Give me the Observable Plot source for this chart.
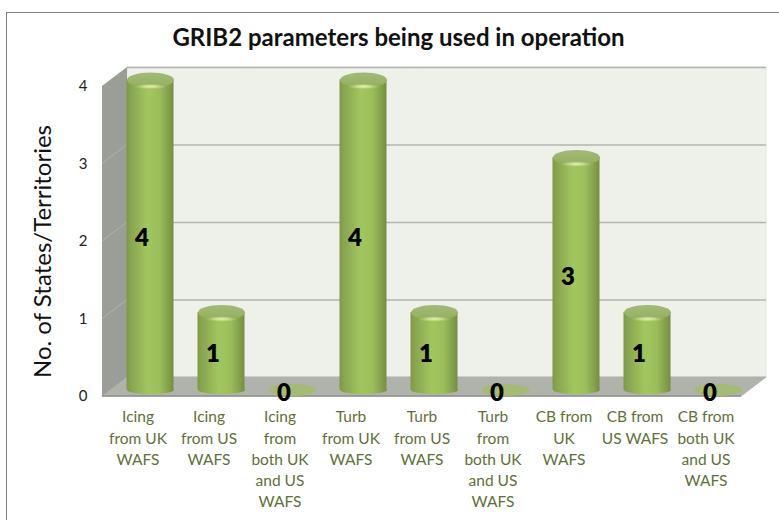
<!DOCTYPE html>
<html><head><meta charset="utf-8">
<script src="https://cdn.jsdelivr.net/npm/d3@7"></script>
<script src="https://cdn.jsdelivr.net/npm/@observablehq/plot@0.6"></script>
<style>
html,body{margin:0;padding:0;background:#fff}
#frame{position:absolute;left:6px;top:12px;width:800px;height:600px;border:1px solid #808080;pointer-events:none}
body{width:779px;height:520px;overflow:hidden;position:relative}
</style></head><body>
<div id="chart"></div><div id="frame"></div>
<script>
const categories = [
  "Icing\nfrom UK\nWAFS","Icing\nfrom US\nWAFS","Icing\nfrom\nboth UK\nand US\nWAFS",
  "Turb\nfrom UK\nWAFS","Turb\nfrom US\nWAFS","Turb\nfrom\nboth UK\nand US\nWAFS",
  "CB from\nUK\nWAFS","CB from\nUS WAFS","CB from\nboth UK\nand US\nWAFS"];
const values = [4,1,0,4,1,0,3,1,0];
const yTicks = [0,1,2,3,4];
const titleText = "GRIB2 parameters being used in operation";
const yTitle = "No. of States/Territories";
const data = categories.map((c,i)=>({c,v:values[i]}));
const nonzero = data.filter(d=>d.v>0);
const zero = data.filter(d=>d.v===0);

const FONT = "Lato, 'Open Sans', sans-serif";
const depthX = 25, depthY = -19;
const barDx = 12.5, barDy = -6.5;
const ellipse = (rx,ry)=>({draw(ctx){
  const k=0.5523;
  ctx.moveTo(-rx,0);
  ctx.bezierCurveTo(-rx,-ry*k,-rx*k,-ry,0,-ry);
  ctx.bezierCurveTo(rx*k,-ry,rx,-ry*k,rx,0);
  ctx.bezierCurveTo(rx,ry*k,rx*k,ry,0,ry);
  ctx.bezierCurveTo(-rx*k,ry,-rx,ry*k,-rx,0);
  ctx.closePath();
}});
const ns="http://www.w3.org/2000/svg";
function defs(){
  const g=document.createElementNS(ns,"g");
  g.innerHTML=`<defs>
  <linearGradient id="cyl" x1="0" x2="1" y1="0" y2="0">
    <stop offset="0" stop-color="#7d9848"/><stop offset="0.08" stop-color="#87a44f"/>
    <stop offset="0.45" stop-color="#a2c65f"/><stop offset="0.7" stop-color="#9bbe5a"/>
    <stop offset="0.93" stop-color="#7f9a4a"/><stop offset="1" stop-color="#748d42"/>
  </linearGradient>
  <linearGradient id="capg" x1="0" x2="0" y1="0" y2="1">
    <stop offset="0" stop-color="#a3ba78"/><stop offset="0.7" stop-color="#98b367"/><stop offset="1" stop-color="#8faa55"/>
  </linearGradient>
  <radialGradient id="shine" cx="0.5" cy="0.5" r="0.5">
    <stop offset="0" stop-color="#e4f0bc"/><stop offset="0.45" stop-color="#cfe196" stop-opacity="0.85"/><stop offset="1" stop-color="#a2c65f" stop-opacity="0"/>
  </radialGradient></defs>`;
  return g;
}
function walls(index,{x,y},channels,dim){
  const x0=x.range()[0], x1=x.range()[1];
  const y0=y(0), y4=y(4);
  const g=document.createElementNS(ns,"g");
  const poly=(pts,fill,stroke)=>{
    const p=document.createElementNS(ns,"polygon");
    p.setAttribute("points",pts.map(q=>q.join(",")).join(" "));
    p.setAttribute("fill",fill);
    if(stroke){p.setAttribute("stroke",stroke);p.setAttribute("stroke-width",1);}
    g.appendChild(p);
  };
  poly([[x0+depthX,y4+depthY],[x1+depthX,y4+depthY],[x1+depthX,y0+depthY],[x0+depthX,y0+depthY]],"#eef0ea","#e4e6e0");
  poly([[x0,y0],[x0+depthX,y0+depthY],[x1+depthX,y0+depthY],[x1,y0]],"#b0b2ac","#b0b2ac");
  poly([[x0,y0],[x0+depthX,y0+depthY],[x0+depthX,y4+depthY],[x0,y4]],"#9b9d97");
  for(const t of yTicks.slice(1,-1)){
    const l=document.createElementNS(ns,"line");
    l.setAttribute("x1",x0);l.setAttribute("x2",x0+depthX);
    l.setAttribute("y1",y(t));l.setAttribute("y2",y(t)+depthY);
    l.setAttribute("stroke","#b0b2ac");
    g.appendChild(l);
  }
  const l=document.createElementNS(ns,"line");
  l.setAttribute("x1",x0);l.setAttribute("x2",x1);l.setAttribute("y1",y0);l.setAttribute("y2",y0);
  l.setAttribute("stroke","#8f918b");l.setAttribute("stroke-width",1.5);
  g.appendChild(l);
  return g;
}
const plot = Plot.plot({
  width:779,height:520,
  marginLeft:102,marginRight:38,marginTop:86,marginBottom:124,
  style:{fontFamily:FONT,background:"white",overflow:"visible"},
  x:{domain:categories,padding:0,label:null},
  y:{domain:[0,4],label:null},
  marks:[
    defs,
    walls,
    Plot.ruleY(yTicks.slice(1),{dx:depthX,dy:depthY,stroke:"#b3b5ae",strokeWidth:1.5,strokeOpacity:1}),
    Plot.dot(zero,{x:"c",y:"v",dx:barDx,dy:barDy,symbol:ellipse(24,6),fill:"#a3bb75",stroke:"none"}),
    Plot.barY(nonzero,{x:"c",y:"v",dx:barDx,dy:barDy,insetLeft:12,insetRight:12,fill:"url(#cyl)"}),
    Plot.dot(nonzero,{x:"c",y:()=>0,dx:barDx,dy:barDy,symbol:ellipse(23.5,4),fill:"url(#cyl)",stroke:"none"}),
    Plot.dot(nonzero,{x:"c",y:"v",dx:barDx,dy:barDy,symbol:ellipse(23.5,7.5),fill:"url(#capg)",stroke:"none"}),
    Plot.dot(nonzero,{x:"c",y:"v",dx:barDx,dy:barDy+6.5,symbol:ellipse(17,3),fill:"url(#shine)",stroke:"none"}),
    Plot.text(data,{x:"c",y:d=>d.v/2,text:d=>String(d.v),dx:4,dy:-3,fontSize:24,fontWeight:800,fill:"#000"}),
    Plot.axisY({ticks:yTicks,tickFormat:d=>String(d),tickSize:0,tickPadding:15,fontSize:15,color:"#222",label:null}),
    Plot.axisX({tickSize:0,tickPadding:11,lineHeight:1.36,fontSize:15.5,color:"#5f7138",lineAnchor:"top",label:null}),
    Plot.text([titleText],{frameAnchor:"top",dx:-23.5,dy:-58,fontSize:24,fontWeight:700,fill:"#111"}),
    Plot.text([yTitle],{frameAnchor:"left",textAnchor:"middle",rotate:-90,dx:-59,dy:10,fontSize:24,fill:"#111"})
  ]
});
document.getElementById("chart").appendChild(plot);
</script></body></html>
